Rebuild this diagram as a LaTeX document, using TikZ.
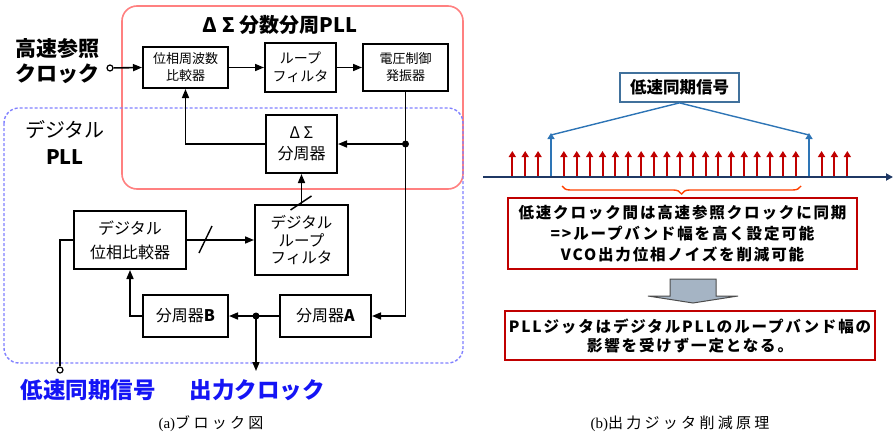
\documentclass[tikz,border=0pt]{standalone}
\usepackage{fontspec}
\newfontfamily\jp{Noto Sans CJK JP}
\newfontfamily\jpls{Noto Sans CJK JP}[LetterSpace=12]
\newfontfamily\jpcap{Noto Sans CJK JP}[LetterSpace=22]
\newfontfamily\serif{Liberation Serif}
\usetikzlibrary{arrows.meta,decorations.pathreplacing,calc}
\definecolor{pinkc}{RGB}{255,128,128}
\definecolor{dblue}{RGB}{128,128,255}
\definecolor{labblue}{RGB}{20,20,245}
\definecolor{navy}{RGB}{31,56,100}
\definecolor{steel}{RGB}{65,113,156}
\definecolor{sigblue}{RGB}{46,117,182}
\definecolor{darkred}{RGB}{192,0,0}
\definecolor{bracec}{RGB}{255,64,0}
\definecolor{grayfill}{RGB}{165,180,196}
\begin{document}
\begin{tikzpicture}[x=1pt,y=-1pt,
 blk/.style={draw, line width=2pt, inner sep=0pt, align=center, font=\jp\fontsize{13}{17}\selectfont},
 conn/.style={line width=1.6pt},
 arr/.style={conn, -{Triangle[length=9pt,width=7pt]}},
 dotn/.style={circle, fill, inner sep=0pt, minimum size=7pt},
 port/.style={circle, draw, fill=white, line width=1.2pt, inner sep=0pt, minimum size=6pt},
 redarr/.style={darkred, line width=2pt, -{Triangle[length=6pt,width=7pt]}},
 bluearr/.style={sigblue, line width=2pt, -{Triangle[length=6pt,width=7pt]}},
 redbox/.style={draw=darkred, line width=1.8pt, inner sep=0pt, align=center, font=\jpls\bfseries\fontsize{15.5}{21}\selectfont},
 lab/.style={font=\jp\bfseries\fontsize{21}{25}\selectfont, align=center},
 bluelab/.style={font=\jp\bfseries\fontsize{22.5}{25}\selectfont, text=labblue},
 captxt/.style={font=\serif\fontsize{15}{17}\selectfont}
]
\useasboundingbox (0,0) rectangle (894,436);

% group frames
\draw[pinkc, line width=1.6pt, rounded corners=15pt] (122,6) rectangle (463,189);
\draw[dblue, line width=1.4pt, dash pattern=on 3pt off 2pt, rounded corners=15pt] (4,108) rectangle (463,363);

\node[font=\jp\bfseries\fontsize{20}{24}\selectfont] (title) at (280,25) {Δ Σ 分数分周PLL};
\node[lab] (hsref) at (58,61) {高速参照\\クロック};
\node[align=center, font=\jp\fontsize{20}{27}\selectfont] (dpll) at (65,142) {デジタル\\\textbf{PLL}};

% blocks
\node[blk, minimum width=85pt, minimum height=41pt] (pfd) at (185.5,67.5) {位相周波数\\比較器};
\node[blk, minimum width=71pt, minimum height=48pt, font=\jp\fontsize{14}{18}\selectfont] (lf) at (300.5,67.5) {ループ\\フィルタ};
\node[blk, minimum width=85pt, minimum height=47pt] (vco) at (405.5,67.5) {電圧制御\\発振器};
\node[blk, minimum width=71pt, minimum height=58pt, font=\jp\fontsize{16}{21}\selectfont] (ds) at (301.5,144) {Δ Σ\\分周器};
\node[blk, minimum width=112pt, minimum height=58pt, font=\jp\fontsize{16}{24}\selectfont] (dpd) at (130,240) {デジタル\\位相比較器};
\node[blk, minimum width=93pt, minimum height=70pt, font=\jp\fontsize{15.5}{17.5}\selectfont] (dlf) at (301.5,240) {デジタル\\ループ\\フィルタ};
\node[blk, minimum width=85pt, minimum height=42pt, font=\jp\fontsize{16}{20}\selectfont] (divb) at (185.5,316) {分周器\textbf{B}};
\node[blk, minimum width=91pt, minimum height=42pt, font=\jp\fontsize{16}{20}\selectfont] (diva) at (325.5,316) {分周器\textbf{A}};

% ports and dots
\node[port] (inp) at (110,68) {};
\node[port] (syncin) at (60,370) {};
\node[dotn] (d1) at (vco.south |- ds.east) {};
\node[dotn] (d2) at (256,316) {};
\coordinate (outc) at (256,371);

% connectors
\draw[arr] (inp) -- (pfd.west);
\draw[arr] (pfd.east) -- (lf.west);
\draw[arr] (lf.east) -- (vco.west);
\draw[arr] (vco.south) -- (vco.south |- diva.east) -- (diva.east);
\draw[arr] (d1.center) -- (ds.east);
\draw[arr] (ds.west) -- (pfd.south |- ds.west) -- (pfd.south);
\draw[arr] (dlf.north) -- (ds.south);
\draw[arr] (dpd.east) -- (dlf.west);
\draw[arr] (diva.west) -- (divb.east);
\draw[arr] (d2.center) -- (outc);
\draw[arr] (divb.west) -- (dpd.south |- divb.west) -- (dpd.south);
\draw[conn] (syncin) -- (syncin |- dpd.west) -- (dpd.west);
% bus slashes
\draw[line width=1.4pt] ($(dlf.north)+(-11,6)$) -- ($(dlf.north)+(10,-8)$);
\draw[line width=1.4pt] (199,253) -- (212,226);

\node[bluelab] (lssig) at (88,390) {低速同期信号};
\node[bluelab] (outclk) at (257,390) {出力クロック};
\node[captxt] (capa) at (211,424) {(a)\jpcap ブロック図};

% ---------- right side ----------
\node[draw=steel, line width=1.8pt, minimum width=119pt, minimum height=29pt, inner sep=0pt, font=\jp\bfseries\fontsize{16.5}{20}\selectfont] (sync) at (679.5,87.5) {低速同期信号};

\foreach \k in {0,...,26}{
  \pgfmathsetmacro{\xx}{512.3+12.885*\k}
  \ifnum\k=3\relax\else\ifnum\k=23\relax\else
  \draw[redarr] (\xx,177) -- (\xx,151);
  \fi\fi
}
\coordinate (b1) at (551,133);
\coordinate (b2) at (809,133);
\draw[bluearr] (551,177) -- (b1);
\draw[bluearr] (809,177) -- (b2);
\draw[sigblue, line width=1.4pt] ($(b1)+(0,2)$) -- (sync.south) -- ($(b2)+(0,2)$);
\draw[navy, line width=2.2pt, -{Triangle[length=7pt,width=7pt]}] (483,177) -- (893,177);

\draw[bracec, line width=1.4pt, decorate, decoration={brace, mirror, amplitude=8pt}] (562,186) -- (801,186);

\node[redbox, minimum width=349pt, minimum height=71pt] (note1) at (682.5,233.5) {低速クロック間は高速参照クロックに同期\\=>ループバンド幅を高く設定可能\\VCO出力位相ノイズを削減可能};
\draw[line width=1pt, draw=black!70, fill=grayfill] (670,279) -- (716,279) -- (716,296) -- (738,296) -- (693,303) -- (648,296) -- (670,296) -- cycle;
\node[redbox, minimum width=370pt, minimum height=49pt, font=\jpls\bfseries\fontsize{15.5}{19}\selectfont] (note2) at (690,335.5) {PLLジッタはデジタルPLLのループバンド幅の\\影響を受けず一定となる。};

\node[captxt] (capb) at (680,424) {(b)\jpcap 出力ジッタ削減原理};
\end{tikzpicture}
\end{document}
